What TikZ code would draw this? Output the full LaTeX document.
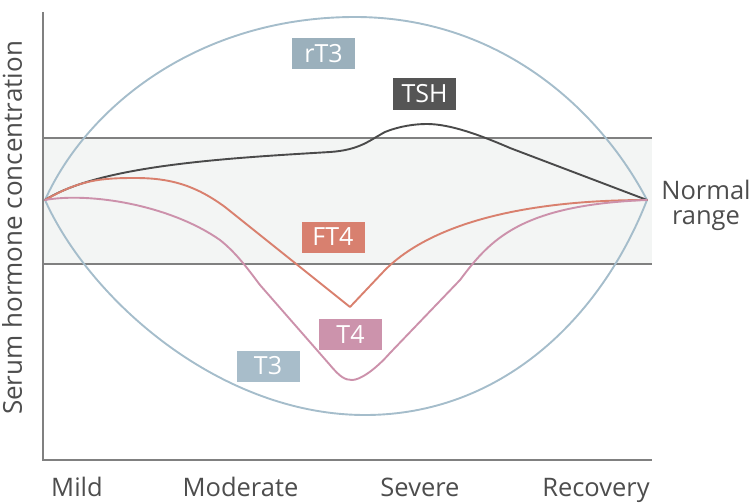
\documentclass[tikz,border=0pt]{standalone}
\usepackage{fontspec}
\setmainfont{Open Sans}
\definecolor{bandfill}{HTML}{F3F5F4}
\definecolor{axisgray}{HTML}{808080}
\definecolor{txtgray}{HTML}{4D4D4D}
\definecolor{blueline}{HTML}{A5BDCB}
\definecolor{tshcol}{HTML}{4A4A4A}
\definecolor{ftcol}{HTML}{D9806E}
\definecolor{tfourcol}{HTML}{CC91AB}
\definecolor{rtbox}{HTML}{9BB0BC}
\definecolor{tthreebox}{HTML}{A8BDCA}
\definecolor{tshbox}{HTML}{555555}
\definecolor{ftbox}{HTML}{D8806F}
\definecolor{tfourbox}{HTML}{CC93AC}
\begin{document}
\begin{tikzpicture}[x=1pt,y=-1pt,
  axislbl/.style={text=txtgray,font=\fontsize{25.5}{25}\selectfont,inner sep=0pt},
  tag/.style={text=white,font=\fontsize{25}{25}\selectfont,minimum width=63pt,minimum height=31pt,inner sep=0pt},
  curve/.style={line width=1.9pt,line join=round,line cap=round}]
\path[use as bounding box] (0,0) rectangle (750,503);
% normal range band
\fill[bandfill] (43,138) rectangle (652,264);
\draw[axisgray,line width=1.8pt] (43,138) -- (652,138);
\draw[axisgray,line width=1.8pt] (43,264) -- (652,264);
% axes
\coordinate (ytop) at (43,12);
\coordinate (orig) at (43,460);
\coordinate (xend) at (652,460);
\draw[axisgray,line width=2.2pt] (ytop) -- (orig) -- (xend);
% common end points
\coordinate (L) at (45,200);
\coordinate (R) at (647,200);
% rT3 and T3
\draw[curve,blueline] (L) .. controls (88,105) and (200,17) .. (355,17) .. controls (500,17) and (600,110) .. (R);
\draw[curve,blueline] (L) .. controls (90,300) and (220,415) .. (365,415) .. controls (500,415) and (600,320) .. (R);
% TSH
\draw[curve,tshcol] (L) .. controls (100,165) and (230,158) .. (330,152) .. controls (360,150) and (370,140) .. (385,132) .. controls (400,126) and (415,124) .. (427,124) .. controls (450,124) and (480,135) .. (510,148) -- (R);
% FT4
\draw[curve,ftcol] (L) .. controls (80,180) and (100,178) .. (135,178) .. controls (170,178) and (195,185) .. (225,207) -- (350,307) -- (385,270) .. controls (430,225) and (520,200) .. (R);
% T4
\draw[curve,tfourcol] (L) .. controls (90,192) and (170,205) .. (220,240) .. controls (235,252) and (245,265) .. (260,285) -- (330,365) .. controls (340,377) and (345,380) .. (352,380) .. controls (360,380) and (375,370) .. (390,353) -- (460,280) .. controls (490,240) and (520,205) .. (R);
% tags
\node[tag,fill=rtbox] (rt3) at (323.5,54) {rT3};
\node[tag,fill=tshbox] (tsh) at (424.5,94) {TSH};
\node[tag,fill=ftbox] (ft4) at (333,237) {FT4};
\node[tag,fill=tfourbox] (t4) at (350.5,334.5) {T4};
\node[tag,fill=tthreebox] (t3) at (268,366) {T3};
% axis labels
\node[axislbl,anchor=base] (mild) at (77,496) {Mild};
\node[axislbl,anchor=base] (moderate) at (240.5,496) {Moderate};
\node[axislbl,anchor=base] (severe) at (420,496) {Severe};
\node[axislbl,anchor=base] (recovery) at (596,496) {Recovery};
\node[axislbl,align=center,anchor=north] (normal) at (706,180) {Normal\\range};
\node[axislbl,font=\fontsize{26}{26}\selectfont,rotate=90] (ylab) at (12,228) {Serum hormone concentration};
\end{tikzpicture}
\end{document}
